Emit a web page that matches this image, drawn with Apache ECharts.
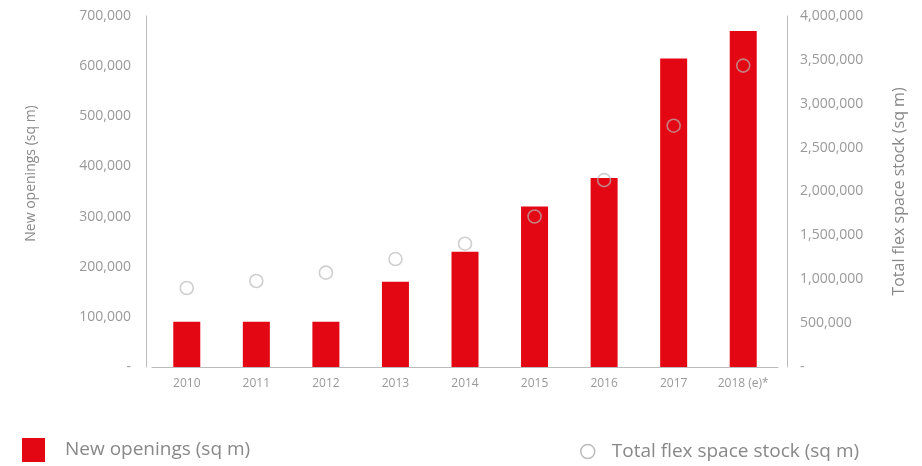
<!DOCTYPE html>
<html>
<head>
<meta charset="utf-8">
<script src="https://cdn.jsdelivr.net/npm/echarts@6/dist/echarts.min.js"></script>
<style>
  html, body { margin: 0; padding: 0; background: #fff; }
  #chart { width: 922px; height: 466px; }
</style>
</head>
<body>
<div id="chart"></div>
<script>
  // chart data
  const years = ['2010', '2011', '2012', '2013', '2014', '2015', '2016', '2017', '2018 (e)*']
  const newOpenings = [90000, 90000, 90000, 170000, 230000, 320000, 377000, 615000, 670000]
  const totalStock = [900000, 980000, 1075000, 1230000, 1405000, 1715000, 2130000, 2750000, 3435000]
  const leftTicks = [0, 700000, 100000]     // min, max, interval
  const rightTicks = [0, 4000000, 500000]

  const red = '#e30613'
  const grey = '#999'
  const font = 'Open Sans'

  const fmt = v => v === 0 ? '-' : v.toLocaleString('en-US')

  let myChart = echarts.init(document.getElementById('chart'))
  myChart.setOption({
    animation: false,
    textStyle: { fontFamily: font },
    grid: { left: 152, right: 144, top: 16, bottom: 99 },
    legend: [
      {
        left: 22, top: 438, padding: 0,
        itemWidth: 23, itemHeight: 24,
        data: [{ name: 'New openings (sq m)', icon: 'rect' }],
        textStyle: { color: '#888', fontSize: 19, fontFamily: font, padding: [0, 0, 0, 15] }
      },
      {
        left: 580, top: 442, padding: 0,
        itemWidth: 14, itemHeight: 14,
        data: [{
          name: 'Total flex space stock (sq m)', icon: 'circle',
          itemStyle: { color: '#fff', borderColor: '#aaa', borderWidth: 1.5 }
        }],
        textStyle: { color: '#888', fontSize: 19, fontFamily: font, padding: [0, 0, 0, 12] }
      }
    ],
    xAxis: {
      type: 'category',
      data: years,
      axisLine: { lineStyle: { color: '#bbb', width: 1 } },
      axisTick: { show: false },
      axisLabel: { color: grey, fontSize: 12, margin: 11, interval: 0 }
    },
    yAxis: [
      {
        type: 'value',
        position: 'left',
        offset: 6,
        min: leftTicks[0], max: leftTicks[1], interval: leftTicks[2],
        name: 'New openings (sq m)',
        nameLocation: 'middle',
        nameRotate: 90,
        nameGap: 108,
        nameTextStyle: { color: '#888', fontSize: 14, padding: [0, 0, 0, 36] },
        axisLine: { show: true, lineStyle: { color: '#bbb', width: 1 } },
        axisTick: { show: false },
        splitLine: { show: false },
        axisLabel: { color: grey, fontSize: 14, margin: 15, formatter: fmt }
      },
      {
        type: 'value',
        position: 'right',
        offset: 9,
        min: rightTicks[0], max: rightTicks[1], interval: rightTicks[2],
        name: 'Total flex space stock (sq m)',
        nameLocation: 'middle',
        nameRotate: 90,
        nameGap: 104,
        nameTextStyle: { color: '#888', fontSize: 16 },
        axisLine: { show: true, lineStyle: { color: '#bbb', width: 1 } },
        axisTick: { show: false },
        splitLine: { show: false },
        axisLabel: { color: grey, fontSize: 14, margin: 13, formatter: fmt }
      }
    ],
    series: [
      {
        name: 'New openings (sq m)',
        type: 'bar',
        data: newOpenings,
        barWidth: 27,
        itemStyle: { color: red }
      },
      {
        name: 'Total flex space stock (sq m)',
        type: 'scatter',
        yAxisIndex: 1,
        data: totalStock,
        symbol: 'circle',
        symbolSize: 13,
        itemStyle: { color: 'rgba(255,255,255,0)', borderColor: 'rgba(185,185,185,0.85)', borderWidth: 1.6 },
        z: 5
      }
    ]
  })
</script>
</body>
</html>
